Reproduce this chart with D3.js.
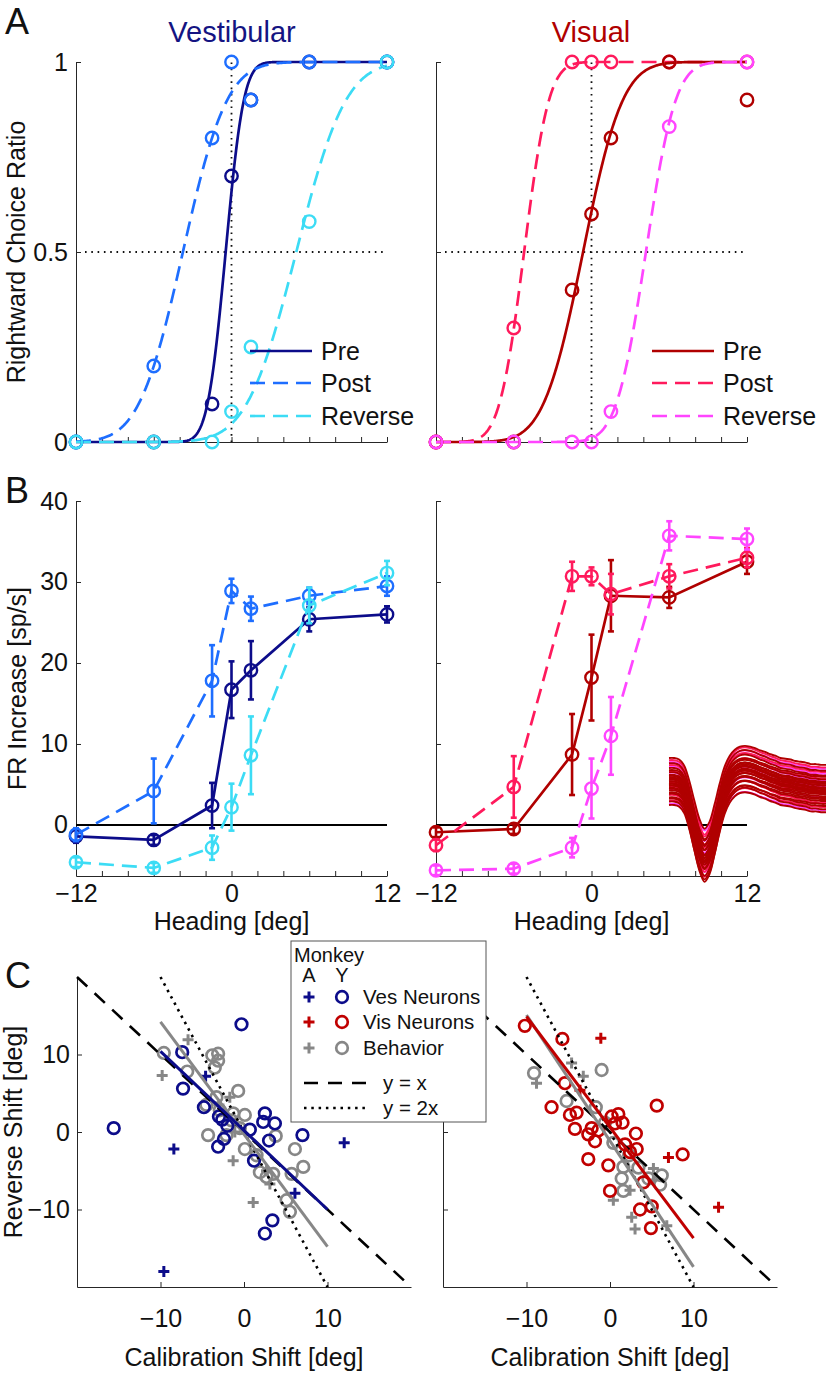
<!DOCTYPE html>
<html><head><meta charset="utf-8">
<script src="https://cdn.jsdelivr.net/npm/d3@7"></script>
<style>
html,body{margin:0;padding:0;background:#fff;}
svg{display:block;}
</style></head><body>
<svg id="fig" width="828" height="1384"></svg>
<script>
// ---------------- DATA ----------------
const headings = [-12, -6, -1.5, 0, 1.5, 6, 12];
const headingTicks = [-12, -10, -8, -6, -4, -2, 0, 2, 4, 6, 8, 10, 12];
const headingLabels = [-12, 0, 12];
const choiceTicks = [0, 0.5, 1];
const frTicks = [0, 10, 20, 30, 40];
const shiftTicks = [-10, 0, 10];
const seriesNames = ["Pre", "Post", "Reverse"];

// Panel A: rightward choice ratio (points)
const vesChoicePre = [0, 0, 0.1, 0.7, 0.9, 1, 1];
const vesChoicePost = [0, 0.2, 0.8, 1, 0.9, 1, 1];
const vesChoiceRev = [0, 0, 0, 0.08, 0.25, 0.58, 1];
const visChoicePre = [0, 0, 0.4, 0.6, 0.8, 1, 0.9];
const visChoicePost = [0, 0.3, 1, 1, 1, 1, 1];
const visChoiceRev = [0, 0, 0, 0, 0.08, 0.83, 1];
// Panel A: fitted cumulative Gaussian parameters (Pre, Post, Reverse)
const vesFitMu = [-0.45, -3.75, 5.0];
const vesFitSigma = [1.1, 2.67, 3.0];
const visFitMu = [-0.65, -5.2, 4.2];
const visFitSigma = [2.4, 1.5, 1.8];

// Panel B: firing rate increase (mean, sem)
const vesFRPre = [-1.4, -1.85, 2.4, 16.7, 19.1, 25.4, 26.0];
const vesFRPreErr = [0.8, 0.6, 2.8, 3.5, 3.6, 1.5, 1.0];
const vesFRPost = [-1.2, 4.2, 17.8, 28.9, 26.7, 28.3, 29.5];
const vesFRPostErr = [0.8, 4.0, 4.4, 1.5, 1.5, 1.0, 1.2];
const vesFRRev = [-4.6, -5.3, -2.8, 2.2, 8.6, 27.1, 31.1];
const vesFRRevErr = [0.6, 0.6, 1.5, 2.9, 4.8, 2.2, 1.5];
const visFRPre = [-0.9, -0.5, 8.7, 18.2, 28.3, 28.1, 32.5];
const visFRPreErr = [0.6, 0.6, 5.0, 5.3, 4.4, 1.3, 1.5];
const visFRPost = [-2.5, 4.7, 30.7, 30.7, 28.5, 30.7, 33.0];
const visFRPostErr = [0.7, 3.8, 1.8, 1.1, 2.5, 1.5, 1.2];
const visFRRev = [-5.6, -5.4, -2.8, 4.5, 11.0, 35.7, 35.3];
const visFRRevErr = [0.6, 0.6, 1.2, 3.7, 4.8, 1.8, 1.3];

// Panel B inset: spike waveforms (mean shape + per-trace offset/gain)
const waveMean = [5, 5, 3, -5, -25, -51, -75, -88, -79, -56, -29, -6, 8, 16, 20, 21, 20, 18, 15, 13, 10, 8, 5, 4, 3, 1, 0, -1, -3, -3, -4, -4];
const waveOffsets = [-30, -28, -26, -24, -22, -20, -18, -16, -14, -12, -11, -10, -8, -7, -6, -5, -4, -3, -2, -1, 0, 1, 2, 3, 4, 5, 6, 7, 8, 10, 11, 12, 14, 16, 18, 20, 22, 24, 26, 29];
const waveGains = [1.0, 0.92, 1.08, 0.96, 1.04, 0.9, 1.1, 1.0, 0.94, 1.06, 0.98, 1.02, 0.9, 1.08, 1.0, 0.95, 1.05, 1.0, 0.97, 1.03, 0.92, 1.1, 1.0, 0.96, 1.04, 0.9, 1.06, 1.0, 0.94, 1.08, 0.98, 1.02, 0.93, 1.05, 1.0, 0.96, 1.04, 0.92, 1.0, 0.95];
const waveColorIdx = [0, 2, 0, 1, 0, 0, 1, 0, 0, 0, 2, 0, 0, 1, 0, 0, 0, 0, 1, 0, 0, 0, 2, 0, 0, 1, 0, 0, 0, 2, 0, 1, 0, 0, 2, 1, 0, 2, 1, 0];

// Panel C: calibration shift vs reverse shift
const vesNeuronsY = [[-0.3, 13.9], [-15.6, 0.5], [-7.4, 10.3], [-7.3, 5.6], [-4.8, 3.2], [-3.0, 2.0], [-2.0, 0.8], [0.7, 0.3], [2.5, 2.4], [2.3, 1.3], [3.7, 1.1], [3.0, -1.1], [7.0, -0.4], [-2.4, -0.9], [-3.1, -1.9], [1.2, -3.7], [2.5, -13.1], [3.4, -11.4], [-2.6, 1.6]];
const vesNeuronsA = [[-8.4, -2.2], [12, -1.4], [6.1, -7.9], [-9.6, -18], [-4.6, 7.2]];
const behaviorLY = [[-9.6, 10.2], [-6.8, 7.8], [-3.8, 9.9], [-3.1, 10.1], [-3.5, 8.3], [-3.1, 9.2], [-0.7, 5.3], [-3.3, 4.5], [-2.9, 2.8], [-1.3, 2.4], [0.1, 2.2], [-4.3, -0.4], [-2.1, -0.4], [0.1, -2.2], [6.1, -2.2], [7.1, -4.5], [5.7, -5.4], [5.1, -8.8], [5.5, -10.3], [3.5, -5.4], [2.7, -5.8], [1.9, -5.2], [-1.5, 1.5], [-4.5, 3.5], [1.5, -3.0], [3.8, -0.5], [-0.5, 0.5]];
const behaviorLA = [[-9.8, 7.3], [-6.7, 11.9], [-1.3, -3.7], [1.1, -9.1], [3.1, -6.7], [-1.7, 4.5], [-1.1, 0], [2.7, -5.0], [-3.0, 3.5]];
const visNeuronsY = [[-10.2, 13.7], [-5.7, 12.0], [-5.4, 6.3], [-7, 3.2], [-4.8, 2.2], [-4, 2.5], [-4.2, 0.4], [-2.6, -0.3], [-1.8, -1.2], [0.2, 2.0], [0.6, 1.1], [1.5, 1.2], [3.1, -0.2], [1.8, -1.6], [3.2, -2.2], [5.6, 3.4], [8.7, -2.9], [-2.6, -3.5], [-0.2, -4.3], [0, -7.6], [4, -6.5], [3.6, -10.0], [5, -9.6], [4.9, -12.4], [-2.2, 0.5], [-1.4, 0.2], [2.4, -2.6], [1.0, 2.3]];
const visNeuronsA = [[-1.1, 12.1], [7.0, -3.3], [13, -9.7], [-3.6, 5.4]];
const behaviorRY = [[-9.1, 7.6], [-1.0, 8.0], [-5.2, 4.0], [-1.7, 3.2], [0.4, -1.4], [3.4, -4.6], [6, -6.8], [1.6, -7.6], [1.4, -6.0], [6.2, -5.6], [1.6, -4.5], [-0.6, 1.2], [2.3, -3.0], [4.6, -6.0]];
const behaviorRA = [[-8.8, 6.3], [-4.6, 8.9], [-3.2, 7.2], [5.2, -6.2], [0.4, -8.8], [2.4, -7.5], [2.6, -11], [3, -12.5], [6.8, -12.1], [5.2, -4.7]];
const fitVes = [[-10, 10.4], [10, -10]];
const fitBehL = [[-10, 14.2], [10, -14.8]];
const fitVis = [[-10, 14.9], [10, -13.7]];
const fitBehR = [[-10, 15.1], [10, -17.4]];
const lineYx = [[-20, 20], [20, -20]];
const line2x = [[-10, 20], [10, -20]];
const legendRows = ["Ves Neurons", "Vis Neurons", "Behavior"];

// ---------------- STYLE ----------------
const FONT = '"Liberation Sans", Arial, Helvetica, sans-serif';
const FS = 25;
const vesCols = ["#0c0c8a", "#1e6eff", "#3cdcf5"];
const visCols = ["#b00000", "#ff1a5c", "#ff45ff"];
const waveCols = ["#b00000", "#ff1a5c", "#ff45ff"];
const cNavy = "#0c0c8a", cRed = "#c00000", cGray = "#878787";
const dashes = [null, "15,8", "15,8"];
const AX = "#262626";

const svg = d3.select("#fig");
svg.append("rect").attr("width", 828).attr("height", 1384).attr("fill", "#fff");

// scales
const xA = [d3.scaleLinear().domain([-12, 12]).range([76, 387]), d3.scaleLinear().domain([-12, 12]).range([436, 747])];
const yA = d3.scaleLinear().domain([0, 1]).range([442, 62]);
const yB = d3.scaleLinear().domain([-6.3, 40]).range([876, 501]);
const xC = [d3.scaleLinear().domain([-20, 20]).range([77, 411]), d3.scaleLinear().domain([-20, 20]).range([443, 777])];
const yC = d3.scaleLinear().domain([-20, 20]).range([1287, 977]);

function Phi(z) {
  const x = Math.abs(z) / Math.SQRT2;
  const t = 1 / (1 + 0.3275911 * x);
  const y = 1 - (((((1.061405429 * t - 1.453152027) * t) + 1.421413741) * t - 0.284496736) * t + 0.254829592) * t * Math.exp(-x * x);
  return 0.5 * (1 + (z < 0 ? -y : y));
}
const fmt = d3.format("~g");

function styleAxis(g, fs) {
  g.attr("font-family", FONT);
  g.selectAll("path,line").attr("stroke", AX).attr("stroke-width", 1);
  g.selectAll("text").attr("font-size", fs).attr("font-family", FONT).attr("fill", "#111");
}
function yAxis(x0, scale, ticks, labels, pad) {
  const g = svg.append("g").attr("transform", `translate(${x0},0)`)
    .call(d3.axisLeft(scale).tickValues(ticks).tickSizeInner(-5).tickSizeOuter(0).tickPadding(pad)
      .tickFormat(labels ? fmt : () => ""));
  styleAxis(g, FS);
}
function xAxis(y0, scale, ticks, labelVals, pad) {
  const g = svg.append("g").attr("transform", `translate(0,${y0})`)
    .call(d3.axisBottom(scale).tickValues(ticks).tickSizeInner(-5).tickSizeOuter(0).tickPadding(pad)
      .tickFormat(d => labelVals && labelVals.includes(d) ? fmt(d) : ""));
  styleAxis(g, FS);
}
function text(x, y, s, opt = {}) {
  const t = svg.append("text").attr("x", x).attr("y", y).text(s)
    .attr("font-family", FONT).attr("font-size", opt.fs || FS)
    .attr("fill", opt.fill || "#111").attr("text-anchor", opt.anchor || "start");
  if (opt.rot) t.attr("transform", `rotate(-90,${x},${y})`);
  return t;
}

// ---------------- PANEL A ----------------
function drawPsych(p, vals, mus, sigmas, cols, order, legX) {
  const xs = xA[p];
  const dot = "1.6,4.7";
  svg.append("line").attr("x1", xs(-12) + 9).attr("x2", xs(12) - 3).attr("y1", yA(0.5)).attr("y2", yA(0.5))
    .attr("stroke", "#111").attr("stroke-width", 1.8).attr("stroke-dasharray", dot);
  svg.append("line").attr("x1", xs(0)).attr("x2", xs(0)).attr("y1", yA(0)).attr("y2", yA(1))
    .attr("stroke", "#111").attr("stroke-width", 1.8).attr("stroke-dasharray", dot);
  yAxis(xs(-12), yA, choiceTicks, p === 0, 8);
  xAxis(yA(0), xs, headingTicks, null, 8);
  const grid = d3.range(-12, 12.0001, 0.05);
  const line = d3.line().x(d => xs(d[0])).y(d => yA(d[1]));
  order.forEach(i => {
    const pts = grid.map(h => [h, Phi((h - mus[i]) / sigmas[i])]);
    svg.append("path").attr("d", line(pts)).attr("fill", "none").attr("stroke", cols[i])
      .attr("stroke-width", 2.7).attr("stroke-dasharray", dashes[i]);
  });
  order.forEach(i => {
    svg.append("g").selectAll("circle").data(headings.map((h, k) => [h, vals[i][k]])).join("circle")
      .attr("cx", d => xs(d[0])).attr("cy", d => yA(d[1])).attr("r", 6.2)
      .attr("fill", "none").attr("stroke", cols[i]).attr("stroke-width", 2.4);
  });
  const rows = [351, 383, 416];
  seriesNames.forEach((n, i) => {
    svg.append("line").attr("x1", legX).attr("x2", legX + 62).attr("y1", rows[i]).attr("y2", rows[i])
      .attr("stroke", cols[i]).attr("stroke-width", 2.7).attr("stroke-dasharray", dashes[i]);
    text(legX + 71, rows[i] + 9, n);
  });
}
drawPsych(0, [vesChoicePre, vesChoicePost, vesChoiceRev], vesFitMu, vesFitSigma, vesCols, [0, 1, 2], 250);
drawPsych(1, [visChoicePre, visChoicePost, visChoiceRev], visFitMu, visFitSigma, visCols, [1, 0, 2], 652);

text(232, 42, "Vestibular", { fs: 29, fill: "#141482", anchor: "middle" });
text(591, 42, "Visual", { fs: 29, fill: "#b00000", anchor: "middle" });
text(25, yA(0.5), "Rightward Choice Ratio", { rot: true, anchor: "middle" });

// ---------------- PANEL B ----------------
function drawFR(p, means, errs, cols) {
  const xs = xA[p];
  yAxis(xs(-12), yB, frTicks, p === 0, 8);
  xAxis(yB(-6.3), xs, headingTicks, headingLabels, 8);
  svg.append("line").attr("x1", xs(-12)).attr("x2", xs(12)).attr("y1", yB(0)).attr("y2", yB(0))
    .attr("stroke", "#000").attr("stroke-width", 2);
  const line = d3.line().x(d => xs(d[0])).y(d => yB(d[1]));
  [0, 1, 2].forEach(i => {
    const pts = headings.map((h, k) => [h, means[i][k], errs[i][k]]);
    const g = svg.append("g").attr("stroke", cols[i]).attr("fill", "none");
    g.append("path").attr("d", line(pts)).attr("stroke-width", 2.7).attr("stroke-dasharray", dashes[i]);
    pts.forEach(d => {
      const x = xs(d[0]), y1 = yB(d[1] - d[2]), y2 = yB(d[1] + d[2]);
      g.append("line").attr("x1", x).attr("x2", x).attr("y1", y1).attr("y2", y2).attr("stroke-width", 2.6);
      g.append("line").attr("x1", x - 3).attr("x2", x + 3).attr("y1", y1).attr("y2", y1).attr("stroke-width", 2.6);
      g.append("line").attr("x1", x - 3).attr("x2", x + 3).attr("y1", y2).attr("y2", y2).attr("stroke-width", 2.6);
      g.append("circle").attr("cx", x).attr("cy", yB(d[1])).attr("r", 6.2).attr("stroke-width", 2.4);
    });
  });
  text(xs(0), 930, "Heading [deg]", { anchor: "middle" });
}
drawFR(0, [vesFRPre, vesFRPost, vesFRRev], [vesFRPreErr, vesFRPostErr, vesFRRevErr], vesCols);
drawFR(1, [visFRPre, visFRPost, visFRRev], [visFRPreErr, visFRPostErr, visFRRevErr], visCols);
text(26, yB(16.85), "FR Increase [sp/s]", { rot: true, anchor: "middle" });

// waveform inset
const xW = d3.scaleLinear().domain([0, waveMean.length - 1]).range([669, 826]);
const yW = d3.scaleLinear().domain([-120, 40]).range([881, 753]);
const wLine = d3.line().x((d, i) => xW(i)).y(d => yW(d)).curve(d3.curveCatmullRom);
const traceOrder = d3.range(waveOffsets.length).sort((a, b) => (waveColorIdx[b] > 0) - (waveColorIdx[a] > 0));
const gW = svg.append("g").attr("fill", "none");
traceOrder.forEach(i => {
  gW.append("path").attr("d", wLine(waveMean.map(v => v * waveGains[i] + waveOffsets[i])))
    .attr("stroke", waveCols[waveColorIdx[i]]).attr("stroke-width", 1.9);
});

// ---------------- PANEL C ----------------
function plus(g, pts, xs, col) {
  g.selectAll(null).data(pts).join("path")
    .attr("d", d => `M${xs(d[0]) - 5.5},${yC(d[1])}H${xs(d[0]) + 5.5}M${xs(d[0])},${yC(d[1]) - 5.5}V${yC(d[1]) + 5.5}`)
    .attr("stroke", col).attr("stroke-width", 3).attr("fill", "none");
}
function circ(g, pts, xs, col) {
  g.selectAll(null).data(pts).join("circle")
    .attr("cx", d => xs(d[0])).attr("cy", d => yC(d[1])).attr("r", 5.8)
    .attr("fill", "none").attr("stroke", col).attr("stroke-width", 2.7);
}
function drawShift(p, behY, behA, neuY, neuA, col, fitN, fitB) {
  const xs = xC[p];
  yAxis(xs(-20), yC, shiftTicks, p === 0, 7);
  xAxis(yC(-20), xs, shiftTicks, shiftTicks, 22);
  const g = svg.append("g");
  circ(g, behY, xs, cGray);
  plus(g, behA, xs, cGray);
  circ(g, neuY, xs, col);
  plus(g, neuA, xs, col);
  const line = d3.line().x(d => xs(d[0])).y(d => yC(d[1]));
  svg.append("path").attr("d", line(lineYx)).attr("stroke", "#000").attr("stroke-width", 2.6).attr("stroke-dasharray", "14,10").attr("fill", "none");
  svg.append("path").attr("d", line(line2x)).attr("stroke", "#000").attr("stroke-width", 2.6).attr("stroke-dasharray", "2.5,4.8").attr("fill", "none");
  svg.append("path").attr("d", line(fitB)).attr("stroke", cGray).attr("stroke-width", 3).attr("fill", "none");
  svg.append("path").attr("d", line(fitN)).attr("stroke", col).attr("stroke-width", 3).attr("fill", "none");
  text(xs(0), 1366, "Calibration Shift [deg]", { anchor: "middle" });
}
drawShift(0, behaviorLY, behaviorLA, vesNeuronsY, vesNeuronsA, cNavy, fitVes, fitBehL);
drawShift(1, behaviorRY, behaviorRA, visNeuronsY, visNeuronsA, cRed, fitVis, fitBehR);
text(22, yC(0), "Reverse Shift [deg]", { rot: true, anchor: "middle" });

// legend C
const lg = svg.append("g");
lg.append("rect").attr("x", 291).attr("y", 941).attr("width", 195).attr("height", 181)
  .attr("fill", "#fff").attr("stroke", "#555").attr("stroke-width", 1);
text(294, 962, "Monkey", { fs: 20 });
text(309, 982, "A", { fs: 20, anchor: "middle" });
text(342, 982, "Y", { fs: 20, anchor: "middle" });
const legCols = [cNavy, cRed, cGray];
const legY = [997, 1022, 1048];
legendRows.forEach((n, i) => {
  const y = legY[i];
  lg.append("path").attr("d", `M303.5,${y}H314.5M309,${y - 5.5}V${y + 5.5}`).attr("stroke", legCols[i]).attr("stroke-width", 3);
  lg.append("circle").attr("cx", 342).attr("cy", y).attr("r", 5.8).attr("fill", "none").attr("stroke", legCols[i]).attr("stroke-width", 2.7);
  text(363, y + 7, n, { fs: 20.5 });
});
lg.append("line").attr("x1", 304).attr("x2", 368).attr("y1", 1083).attr("y2", 1083).attr("stroke", "#000").attr("stroke-width", 2.6).attr("stroke-dasharray", "14,10");
text(383, 1090, "y = x", { fs: 20.5 });
lg.append("line").attr("x1", 304).attr("x2", 368).attr("y1", 1108).attr("y2", 1108).attr("stroke", "#000").attr("stroke-width", 2.6).attr("stroke-dasharray", "2.5,4.8");
text(383, 1115, "y = 2x", { fs: 20.5 });

// panel letters
text(5, 34, "A", { fs: 36 });
text(5, 503, "B", { fs: 36 });
text(5, 988, "C", { fs: 36 });
</script></body></html>
